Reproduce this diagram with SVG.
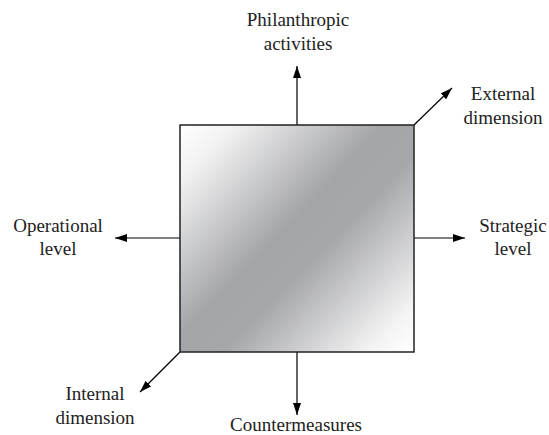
<svg xmlns="http://www.w3.org/2000/svg" width="549" height="435" viewBox="0 0 549 435">
<defs>
<linearGradient id="g" x1="180" y1="125" x2="414" y2="352" gradientUnits="userSpaceOnUse">
<stop offset="0" stop-color="#ffffff"/>
<stop offset="0.12" stop-color="#f2f2f2"/>
<stop offset="0.45" stop-color="#a4a5a9"/>
<stop offset="0.58" stop-color="#a6a7ab"/>
<stop offset="0.9" stop-color="#f4f4f4"/>
<stop offset="1" stop-color="#ffffff"/>
</linearGradient>
<marker id="ah" viewBox="0 0 12 8" refX="12" refY="4" markerWidth="12" markerHeight="8" markerUnits="userSpaceOnUse" orient="auto">
<path d="M0,0 L12,4 L0,8 Z" fill="#000"/>
</marker>
</defs>
<style>
.c{stroke:#000;stroke-width:1.2;fill:none;marker-end:url(#ah)}
.t{font-family:"Liberation Serif","Times New Roman",serif;font-size:19px;fill:#222;text-anchor:middle}
</style>
<rect width="549" height="435" fill="#fff"/>
<g id="connectors">
<line class="c" x1="297" y1="125" x2="297" y2="66"/>
<line class="c" x1="297" y1="352" x2="297" y2="415"/>
<line class="c" x1="180" y1="238" x2="115" y2="238"/>
<line class="c" x1="414" y1="238" x2="465" y2="238"/>
<line class="c" x1="414" y1="125" x2="452" y2="88"/>
<line class="c" x1="180" y1="352" x2="140" y2="392"/>
</g>
<g id="center">
<rect x="180" y="125" width="234" height="227" fill="url(#g)" stroke="#222" stroke-width="1.5"/>
</g>
<g id="philanthropic"><text class="t" x="298" y="26">Philanthropic</text><text class="t" x="298" y="50">activities</text></g>
<g id="external"><text class="t" x="503" y="100">External</text><text class="t" x="503" y="124">dimension</text></g>
<g id="operational"><text class="t" x="58" y="232">Operational</text><text class="t" x="58" y="255">level</text></g>
<g id="strategic"><text class="t" x="513" y="232">Strategic</text><text class="t" x="513" y="255">level</text></g>
<g id="internal"><text class="t" x="95" y="400">Internal</text><text class="t" x="95" y="424">dimension</text></g>
<g id="countermeasures"><text class="t" x="296" y="431">Countermeasures</text></g>
</svg>
